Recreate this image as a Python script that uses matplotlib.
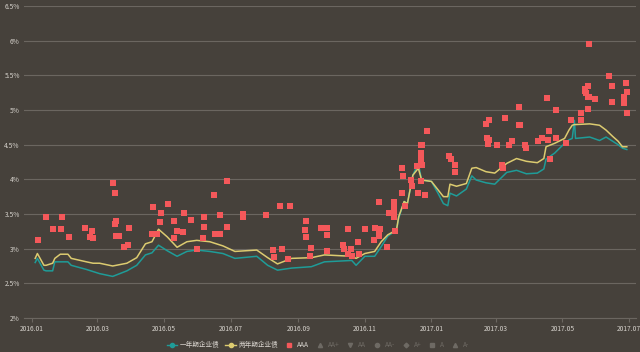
import matplotlib
matplotlib.use("Agg")
import matplotlib.pyplot as plt
import matplotlib.dates as mdates
from matplotlib.lines import Line2D
import pandas as pd

plt.rcParams['font.family'] = ['Noto Sans CJK SC', 'DejaVu Sans']

# ---- data ----
line_dates = ["2016-01-04", "2016-01-06", "2016-01-12", "2016-01-14", "2016-01-20", "2016-01-22",
              "2016-01-27", "2016-02-03", "2016-02-06", "2016-02-20", "2016-02-26", "2016-03-03",
              "2016-03-15", "2016-03-28", "2016-04-06", "2016-04-14", "2016-04-20", "2016-04-26",
              "2016-05-04", "2016-05-13", "2016-05-22", "2016-05-31", "2016-06-12", "2016-06-24",
              "2016-07-05", "2016-07-25", "2016-08-04", "2016-08-13", "2016-08-26", "2016-09-13",
              "2016-09-25", "2016-10-20", "2016-10-24", "2016-11-01", "2016-11-10", "2016-11-16",
              "2016-11-22", "2016-11-30", "2016-12-02", "2016-12-07", "2016-12-10", "2016-12-15",
              "2016-12-20", "2016-12-23", "2017-01-01", "2017-01-07", "2017-01-12", "2017-01-16",
              "2017-01-18", "2017-01-24", "2017-02-02", "2017-02-07", "2017-02-11", "2017-02-20",
              "2017-02-28", "2017-03-11", "2017-03-20", "2017-03-29", "2017-04-08", "2017-04-14",
              "2017-04-16", "2017-04-24", "2017-05-03", "2017-05-07", "2017-05-10", "2017-05-12",
              "2017-05-13", "2017-05-26", "2017-06-04", "2017-06-10", "2017-06-16", "2017-06-21",
              "2017-06-25", "2017-06-29"]

one_year = [2.80, 2.86, 2.69, 2.68, 2.68, 2.81, 2.81, 2.81, 2.76, 2.70, 2.67, 2.64,
            2.60, 2.68, 2.76, 2.91, 2.94, 3.05, 2.97, 2.89, 2.96, 2.98, 2.96, 2.93,
            2.86, 2.89, 2.76, 2.69, 2.72, 2.74, 2.81, 2.83, 2.76, 2.89, 2.89, 3.03,
            3.18, 3.27, 3.44, 3.68, 3.65, 4.06, 4.23, 3.99, 3.97, 3.80, 3.65, 3.62,
            3.80, 3.76, 3.86, 4.05, 3.99, 3.95, 3.93, 4.10, 4.13, 4.08, 4.09, 4.15,
            4.29, 4.38, 4.52, 4.57, 4.59, 4.85, 4.59, 4.61, 4.56, 4.61, 4.55, 4.50,
            4.45, 4.43]

two_year = [2.86, 2.93, 2.76, 2.76, 2.79, 2.86, 2.92, 2.92, 2.86, 2.81, 2.79, 2.79,
            2.75, 2.79, 2.87, 3.07, 3.10, 3.28, 3.17, 3.02, 3.10, 3.12, 3.10, 3.04,
            2.96, 2.98, 2.87, 2.78, 2.86, 2.87, 2.91, 2.89, 2.86, 2.93, 2.96, 3.10,
            3.20, 3.27, 3.46, 3.68, 3.65, 4.06, 4.16, 3.99, 3.97, 3.85, 3.75, 3.75,
            3.93, 3.90, 3.94, 4.16, 4.17, 4.11, 4.09, 4.23, 4.30, 4.26, 4.24, 4.30,
            4.47, 4.52, 4.59, 4.71, 4.78, 4.79, 4.79, 4.80, 4.78, 4.71, 4.62, 4.55,
            4.47, 4.47]

aaa_dates = ["2016-01-07", "2016-01-14", "2016-01-20", "2016-01-28", "2016-01-29", "2016-02-04",
             "2016-02-19", "2016-02-23", "2016-02-25", "2016-02-26", "2016-03-15", "2016-03-17",
             "2016-03-17", "2016-03-18", "2016-03-18", "2016-03-21", "2016-03-25", "2016-03-29",
             "2016-03-30", "2016-04-20", "2016-04-21", "2016-04-25", "2016-04-27", "2016-04-28",
             "2016-05-05", "2016-05-10", "2016-05-10", "2016-05-13", "2016-05-18", "2016-05-19",
             "2016-05-26", "2016-05-31", "2016-06-06", "2016-06-07", "2016-06-07", "2016-06-16",
             "2016-06-17", "2016-06-21", "2016-06-21", "2016-06-28", "2016-06-28", "2016-07-12",
             "2016-07-12", "2016-08-02", "2016-08-09", "2016-08-10", "2016-08-15", "2016-08-17",
             "2016-08-23", "2016-08-24", "2016-09-07", "2016-09-08", "2016-09-08", "2016-09-12",
             "2016-09-13", "2016-09-22", "2016-09-27", "2016-09-27", "2016-09-27", "2016-10-12",
             "2016-10-13", "2016-10-17", "2016-10-17", "2016-10-19", "2016-10-20", "2016-10-26",
             "2016-10-27", "2016-11-01", "2016-11-09", "2016-11-10", "2016-11-14", "2016-11-14",
             "2016-11-14", "2016-11-15", "2016-11-21", "2016-11-23", "2016-11-28", "2016-11-28",
             "2016-11-28", "2016-11-28", "2016-11-28", "2016-11-29", "2016-12-05", "2016-12-05",
             "2016-12-06", "2016-12-08", "2016-12-13", "2016-12-14", "2016-12-19", "2016-12-20",
             "2016-12-22", "2016-12-22", "2016-12-22", "2016-12-22", "2016-12-22", "2016-12-22",
             "2016-12-23", "2016-12-23", "2016-12-26", "2016-12-28", "2017-01-17", "2017-01-19",
             "2017-01-23", "2017-01-23", "2017-02-20", "2017-02-21", "2017-02-22", "2017-02-23",
             "2017-02-23", "2017-03-02", "2017-03-07", "2017-03-08", "2017-03-09", "2017-03-13",
             "2017-03-16", "2017-03-22", "2017-03-22", "2017-03-23", "2017-03-28", "2017-03-29",
             "2017-04-09", "2017-04-12", "2017-04-17", "2017-04-18", "2017-04-19", "2017-04-20",
             "2017-04-25", "2017-04-25", "2017-05-04", "2017-05-09", "2017-05-18", "2017-05-18",
             "2017-05-22", "2017-05-22", "2017-05-23", "2017-05-24", "2017-05-24", "2017-05-24",
             "2017-05-25", "2017-05-25", "2017-05-31", "2017-06-13", "2017-06-15", "2017-06-15",
             "2017-06-26", "2017-06-26", "2017-06-28", "2017-06-29", "2017-06-29"]

aaa_values = [3.12, 3.45, 3.29, 3.28, 3.45, 3.17,
              3.30, 3.17, 3.25, 3.15, 3.95, 3.80,
              3.36, 3.40, 3.18, 3.18, 3.03, 3.05,
              3.30, 3.21, 3.60, 3.21, 3.38, 3.51,
              3.65, 3.40, 3.16, 3.25, 3.24, 3.51,
              3.42, 3.00, 3.15, 3.45, 3.31, 3.78,
              3.21, 3.48, 3.21, 3.98, 3.31, 3.50,
              3.46, 3.49, 2.98, 2.88, 3.61, 2.99,
              2.85, 3.61, 3.27, 3.40, 3.17, 2.90,
              3.01, 3.30, 3.30, 3.20, 2.96, 3.05,
              3.00, 3.29, 2.92, 3.00, 2.90, 3.10,
              2.93, 3.28, 3.12, 3.30, 3.27, 3.18,
              3.68, 3.28, 3.03, 3.51, 3.67, 3.60,
              3.55, 3.50, 3.46, 3.25, 4.17, 3.80,
              4.05, 3.61, 3.99, 3.90, 4.19, 3.80,
              4.50, 4.38, 4.32, 4.27, 4.20, 3.97,
              4.50, 4.20, 3.77, 4.70, 4.34, 4.29,
              4.20, 4.10, 4.80, 4.60, 4.51, 4.85,
              4.57, 4.49, 4.20, 4.17, 4.89, 4.50,
              4.55, 5.05, 4.78, 4.79, 4.50, 4.45,
              4.55, 4.60, 5.17, 4.57, 4.70, 4.30,
              5.00, 4.60, 4.53, 4.85, 4.95, 4.85,
              5.30, 5.27, 5.24, 5.35, 5.02, 5.19,
              5.95, 5.19, 5.16, 5.49, 5.35, 5.12,
              5.19, 5.10, 5.39, 5.26, 4.95]

y_ticks = [2.0, 2.5, 3.0, 3.5, 4.0, 4.5, 5.0, 5.5, 6.0, 6.5]
y_labels = ["2%", "2.5%", "3%", "3.5%", "4%", "4.5%", "5%", "5.5%", "6%", "6.5%"]
x_ticks = ["2016-01-01", "2016-03-01", "2016-05-01", "2016-07-01", "2016-09-01",
           "2016-11-01", "2017-01-01", "2017-03-01", "2017-05-01", "2017-07-01"]

legend_labels = ["一年期企业债", "两年期企业债", "AAA", "AA+", "AA", "AA-", "A+", "A", "A-"]

# ---- style ----
BG = "#46413b"
GRID = "#6b6660"
TXT = "#d6d2cc"
TEAL = "#1f9c98"
YELLOW = "#dccb70"
RED = "#f4585a"
INACTIVE = "#6e6a64"

fig = plt.figure(figsize=(6.4, 3.52), dpi=100, facecolor=BG)
W, H = 640, 352
ax = fig.add_axes([24 / W, 1 - 318 / H, (636 - 24) / W, (318 - 6) / H])
ax.set_facecolor(BG)

ld = pd.to_datetime(line_dates)
ax.plot(ld, one_year, color=TEAL, lw=1.1, zorder=3)
ax.plot(ld, two_year, color=YELLOW, lw=1.1, zorder=3)
ax.scatter(pd.to_datetime(aaa_dates), aaa_values, marker="s", s=13, color=RED,
           linewidths=0, zorder=4)

ax.set_ylim(2.0, 6.5)
ax.set_yticks(y_ticks)
ax.set_yticklabels(y_labels)
ax.set_xlim(pd.Timestamp("2015-12-24 18:00"), pd.Timestamp("2017-07-07 10:00"))
ax.set_xticks(pd.to_datetime(x_ticks))
ax.xaxis.set_major_formatter(mdates.DateFormatter("%Y.%m"))

ax.grid(axis="y", color=GRID, lw=0.8)
ax.set_axisbelow(True)
for s in ["left", "right", "top"]:
    ax.spines[s].set_visible(False)
ax.spines["bottom"].set_color(GRID)
ax.spines["bottom"].set_linewidth(0.8)
ax.tick_params(axis="y", length=0, pad=3, labelsize=4.8, labelcolor=TXT)
ax.tick_params(axis="x", length=3, width=0.8, color=GRID, pad=2, labelsize=4.8, labelcolor=TXT)

# ---- legend ----
handles = [
    Line2D([], [], color=TEAL, lw=1.0, marker="o", markersize=3),
    Line2D([], [], color=YELLOW, lw=1.0, marker="o", markersize=3),
    Line2D([], [], ls="none", color=RED, marker="s", markersize=3),
    Line2D([], [], ls="none", color=INACTIVE, marker="^", markersize=3),
    Line2D([], [], ls="none", color=INACTIVE, marker="v", markersize=3),
    Line2D([], [], ls="none", color=INACTIVE, marker="o", markersize=3),
    Line2D([], [], ls="none", color=INACTIVE, marker="D", markersize=2.4),
    Line2D([], [], ls="none", color=INACTIVE, marker="s", markersize=3),
    Line2D([], [], ls="none", color=INACTIVE, marker="^", markersize=3),
]
label_colors = [TXT, TXT, TXT] + [INACTIVE] * 6
leg = fig.legend(handles, legend_labels, loc="center", bbox_to_anchor=(318 / W, 1 - 345 / H),
                 ncol=9, frameon=False, fontsize=4.8, handlelength=1.6, handletextpad=0.4,
                 columnspacing=0.8, labelcolor=label_colors)

fig.savefig("out.png", dpi=100, facecolor=BG)
